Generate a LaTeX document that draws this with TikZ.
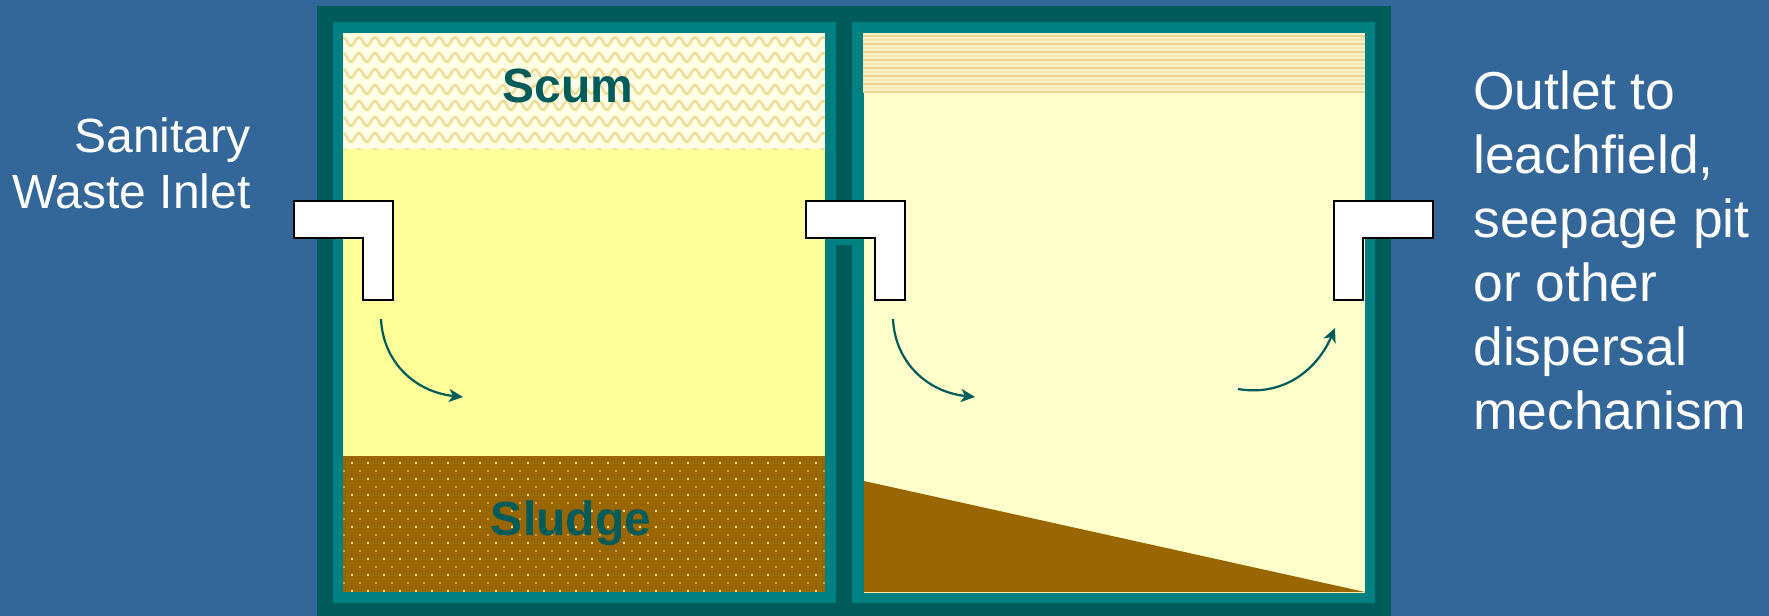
\documentclass[tikz,border=0pt]{standalone}
\usepackage{fontspec}
\setmainfont{Liberation Sans}
\usetikzlibrary{arrows.meta}

\definecolor{slideblue}{HTML}{336699}
\definecolor{tankdark}{HTML}{005B5B}
\definecolor{tankteal}{HTML}{008080}
\definecolor{liquidfirst}{HTML}{FFFF99}
\definecolor{liquidsecond}{HTML}{FFFFCC}
\definecolor{sludgebrown}{HTML}{996600}
\definecolor{scumback}{HTML}{FFFFE6}
\definecolor{scumwave}{HTML}{F0DD98}
\definecolor{stripeback}{HTML}{FBF2C4}
\definecolor{scumstripe}{HTML}{EBD596}
\definecolor{stripefaint}{HTML}{F5E6B0}
\definecolor{sludgedot}{HTML}{FFE9A0}

\tikzset{
    pipe/.style={draw=black, fill=white, line width=1.4pt, line join=miter},
    flow/.style={draw=tankdark, line width=1.1pt, -{Stealth[length=7pt,width=6.5pt,inset=2pt]}},
    label/.style={text=white, inner sep=0pt, font=\fontsize{24}{28}\selectfont},
    biglabel/.style={text=white, inner sep=0pt, font=\fontsize{26.7}{32}\selectfont},
    layer/.style={text=tankdark, inner sep=0pt, font=\fontsize{24}{30}\selectfont\bfseries}
}

\begin{document}
\begin{tikzpicture}[x=0.5pt, y=-0.5pt]
    \useasboundingbox (0,0) rectangle (1769,616);
    \fill[slideblue] (0,0) rectangle (1769,616);

    % tank walls
    \fill[tankdark] (317,6) rectangle (1391,616);
    \fill[tankteal] (333,22) rectangle (836,603);
    \fill[tankteal] (852,22) rectangle (1375,603);
    \fill[tankteal] (836,238) rectangle (852,245);

    % first chamber
    \fill[liquidfirst] (343,33) rectangle (825,592);
    \begin{scope}
        \clip (343,33) rectangle (825,149);
        \fill[scumback] (343,33) rectangle (825,149);
        \foreach \row in {0,...,7}
            \draw[scumwave, line width=1.3pt] plot[smooth, domain=343:825, samples=245]
                (\x, {41.5+16*\row-4.5*cos(22.5*(\x-359))});
    \end{scope}
    \begin{scope}
        \clip (343,456) rectangle (825,592);
        \fill[sludgebrown] (343,456) rectangle (825,592);
        \foreach \row in {0,...,8}
            \foreach \col in {0,...,30} {
                \fill[sludgedot] (352+16*\col,463+16*\row) circle (1.3);
                \fill[sludgedot] (344+16*\col,455+16*\row) circle (0.8);
            }
    \end{scope}

    % second chamber
    \fill[liquidsecond] (864,33) rectangle (1365,592);
    \begin{scope}
        \clip (863,33) rectangle (1365,92);
        \fill[stripeback] (863,33) rectangle (1365,92);
        \foreach \row in {0,...,7} {
            \draw[scumstripe, line width=1.1pt] (863,36+8*\row) -- (1365,36+8*\row);
            \draw[stripefaint, line width=0.7pt] (863,40+8*\row) -- (1365,40+8*\row);
        }
    \end{scope}
    \fill[sludgebrown] (864,481) -- (1365,592) -- (864,592) -- cycle;
    \draw[sludgedot, line width=0.5pt] (864,592) -- (1365,592);

    % inlet and baffle
    \foreach \dx in {0,512} {
        \begin{scope}[shift={(\dx,0)}]
            \draw[pipe] (294,201) -- (393,201) -- (393,300) -- (363,300) -- (363,238) -- (294,238) -- cycle;
            \coordinate (flowstart) at (381,319);
            \coordinate (flowend) at (463,397);
            \draw[flow] (flowstart) .. controls (383,362) and (415,392) .. (flowend);
        \end{scope}
    }

    % outlet
    \draw[pipe] (1433,201) -- (1334,201) -- (1334,300) -- (1363,300) -- (1363,238) -- (1433,238) -- cycle;
    \coordinate (outstart) at (1238,389);
    \coordinate (outend) at (1335,328);
    \draw[flow] (outstart) .. controls (1285,397) and (1318,368) .. (outend);

    \node[layer] (scum) at (568,86) {Scum};
    \node[layer] (sludge) at (571,523) {Sludge};
    \node[label, align=right, anchor=east] (inlet) at (251,163) {Sanitary\\Waste Inlet};
    \node[biglabel, align=left, anchor=west] (outlet) at (1473,250) {Outlet to\\leachfield,\\seepage pit\\or other\\dispersal\\mechanism};
\end{tikzpicture}
\end{document}
